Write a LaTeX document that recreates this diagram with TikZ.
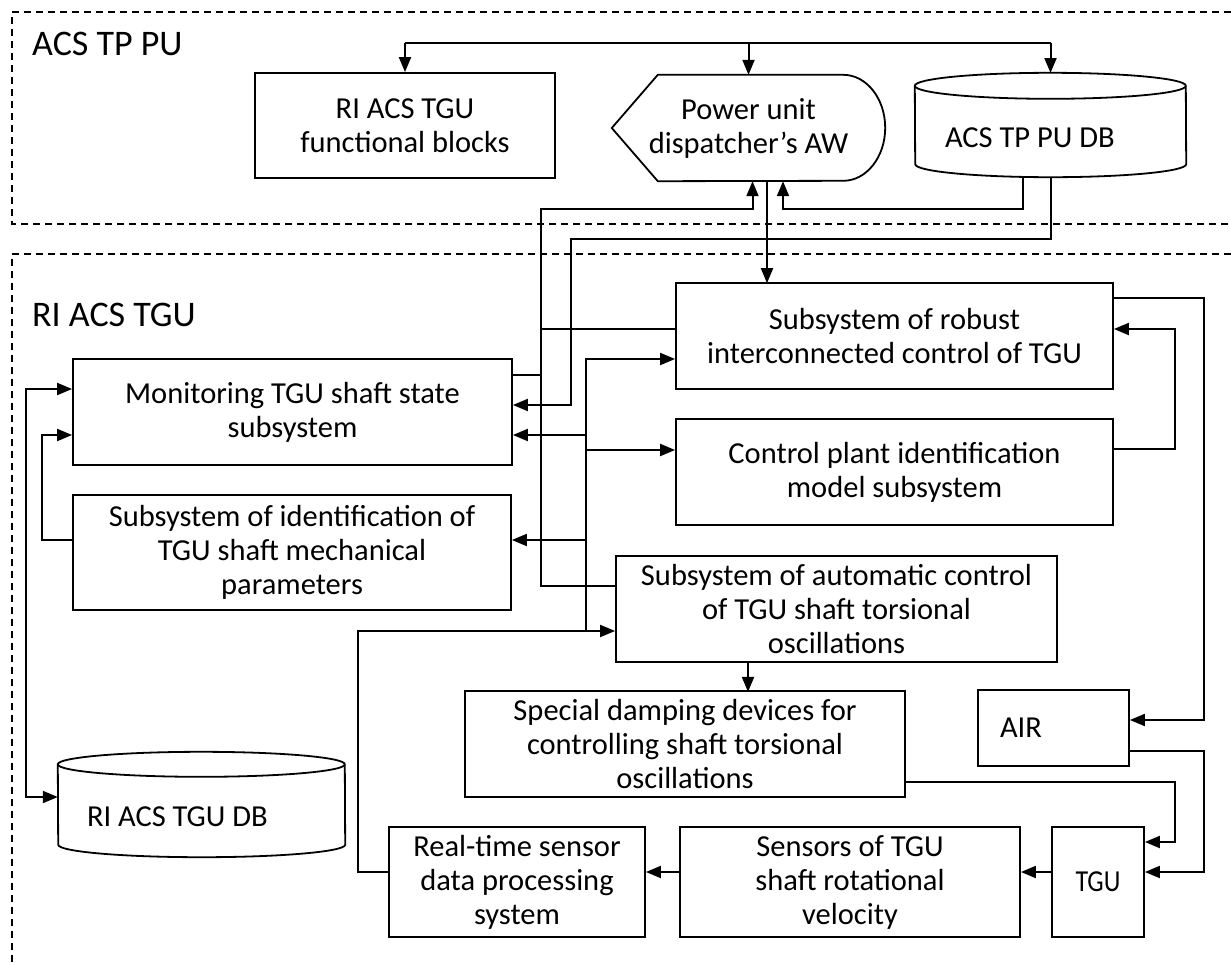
\documentclass[tikz,border=0pt]{standalone}
\usepackage{fontspec}
\setmainfont{Carlito}
\usetikzlibrary{shapes,arrows.meta}
\tikzstyle{block} = [rectangle, draw, line width=1.8pt, align=center, minimum height=106pt, inner sep=3pt, font=\fontsize{30.5}{34}\selectfont]
\tikzstyle{plain} = [rectangle, align=center, inner sep=0pt, font=\fontsize{30.5}{34}\selectfont]
\tikzstyle{title} = [anchor=base west, inner sep=0pt, font=\fontsize{36}{40}\selectfont]
\tikzstyle{line} = [draw, line width=2pt, -{Triangle[length=15pt,width=12pt]}]
\tikzstyle{bline} = [draw, line width=2pt, {Triangle[length=15pt,width=12pt]}-{Triangle[length=15pt,width=12pt]}]
\tikzstyle{wire} = [draw, line width=1.8pt]
\tikzstyle{frame} = [draw, line width=1.3pt, dash pattern=on 7pt off 5pt]

\begin{document}
\begin{tikzpicture}[x=1pt,y=-1pt]
\useasboundingbox (0,0) rectangle (1231,964);
% group frames
\path [frame] (1231,12) -- (12,12) -- (12,224) -- (1231,224);
\path [frame] (1231,254) -- (12,254) -- (12,964);
\node [title] (acstppu) at (32,55) {ACS TP PU};
\node [title] (riacstgu) at (32,326) {RI ACS TGU};

% upper level
\node [block, minimum width=300pt, minimum height=105pt] (func) at (405,125.5) {RI ACS TGU\\functional blocks};
\node [plain, minimum width=273pt, minimum height=106pt] (pu) at (748.5,128) {Power unit\\dispatcher’s AW};
\draw [line width=1.8pt] ([xshift=46pt]pu.north west) -- ([xshift=-42pt]pu.north east)
  arc[start angle=90, end angle=-90, x radius=42pt, y radius=53pt]
  -- ([xshift=46pt]pu.south west) -- (pu.west) -- cycle;
\node [plain, minimum width=271pt, minimum height=78pt, text width=211pt, align=flush left] (acsdb) at (1050.5,138) {ACS TP PU DB};
\draw [line width=1.8pt] ([yshift=13pt]acsdb.north west) arc[start angle=180, end angle=0, x radius=135.5pt, y radius=13pt]
  -- ([yshift=13pt]acsdb.south east) arc[start angle=0, end angle=-180, x radius=135.5pt, y radius=13pt] -- cycle;
\draw [line width=1.8pt] ([yshift=13pt]acsdb.north west) arc[start angle=180, end angle=360, x radius=135.5pt, y radius=13pt];

% lower level
\node [block, minimum width=437pt] (robust) at (894.5,336) {Subsystem of robust\\interconnected control of TGU};
\node [block, minimum width=439pt] (mon) at (292.5,412) {Monitoring TGU shaft state\\subsystem};
\node [block, minimum width=437pt] (ctrl) at (894.5,472) {Control plant identification\\model subsystem};
\node [block, minimum width=438pt, minimum height=115pt] (ident) at (292,552.5) {Subsystem of identification of\\TGU shaft mechanical\\parameters};
\node [block, minimum width=441pt] (autoctl) at (836.5,609) {Subsystem of automatic control\\of TGU shaft torsional\\oscillations};
\node [block, minimum width=440pt] (damp) at (685,744) {Special damping devices for\\controlling shaft torsional\\oscillations};
\node [block, minimum width=151pt, minimum height=76pt, text width=107pt, align=flush left] (air) at (1053.5,728) {AIR};
\node [block, minimum width=92pt, minimum height=110pt] (tgu) at (1098,882) {\scalebox{0.85}[1]{TGU}};
\node [block, minimum width=340pt, minimum height=110pt] (sens) at (850,882) {Sensors of TGU\\shaft rotational\\velocity};
\node [block, minimum width=256pt, minimum height=110pt] (rt) at (517,882) {Real-time sensor\\data processing\\system};
\node [plain, minimum width=287pt, minimum height=80pt, text width=229pt, align=flush left] (ridb) at (201.5,817) {RI ACS TGU DB};
\draw [line width=1.8pt] ([yshift=12.5pt]ridb.north west) arc[start angle=180, end angle=0, x radius=143.5pt, y radius=12.5pt]
  -- ([yshift=12.5pt]ridb.south east) arc[start angle=0, end angle=-180, x radius=143.5pt, y radius=12.5pt] -- cycle;
\draw [line width=1.8pt] ([yshift=12.5pt]ridb.north west) arc[start angle=180, end angle=360, x radius=143.5pt, y radius=12.5pt];

% bus points
\coordinate (topbus) at (405,43);
\coordinate (busA) at (541,209);
\coordinate (busB) at (571,239);
\coordinate (busC) at (586,631);
\coordinate (puin) at ([xshift=34.5pt]pu.south);

% top bus
\path [wire] (topbus) -- (acsdb.north |- topbus);
\path [line] (topbus) -- (func.north);
\path [line] (pu.north |- topbus) -- (pu.north);
\path [line] (acsdb.north |- topbus) -- ++(0,30);

% to the dispatcher
\path [line] ([yshift=37pt]mon.east) -| (busA) -| ([xshift=4pt]pu.south);
\path [wire] ([yshift=7pt]robust.west) -| (busA);
\path [wire] ([yshift=23pt]autoctl.west) -| (busA);
\path [line] ([xshift=-28pt]acsdb.south) |- (puin |- busA) -- (puin);
\path [line] ([xshift=18.5pt]pu.south) -- ++(0,102);
\path [line] (acsdb.south) |- (busB) |- ([yshift=7pt]mon.east);

% sensor data
\path [line] ([yshift=10pt]rt.west) -- ++(-30,0) |- ([yshift=-22pt]autoctl.west);
\path [line] (busC) |- ([yshift=-23pt]robust.west);
\path [line] (busC) |- ([yshift=-23pt]mon.east);
\path [line] (busC) |- ([yshift=22pt]ctrl.west);
\path [line] (busC) |- ([yshift=12.5pt]ident.east);

% left side
\path [bline] ([yshift=23pt]mon.west) -- ++(-46,0) |- ([yshift=20pt]ridb.west);
\path [line] ([yshift=12.5pt]ident.west) -- ++(-30,0) |- ([yshift=-23pt]mon.west);

% right side
\path [line] ([yshift=38pt]robust.east) -- ++(90,0) |- ([yshift=8pt]air.east);
\path [line] ([yshift=23pt]ctrl.east) -- ++(61,0) |- ([yshift=7pt]robust.east);
\path [line] ([yshift=-23pt]air.east) -- ++(74,0) |- ([yshift=10pt]tgu.east);
\path [line] ([yshift=-38pt]damp.east) -- ++(269,0) |- ([yshift=40pt]tgu.east);
\path [line] ([xshift=-88.5pt]autoctl.south) -- ++(0,29);

% bottom row
\path [line] ([yshift=10pt]tgu.west) -- ([yshift=10pt]sens.east);
\path [line] ([yshift=10pt]sens.west) -- ([yshift=10pt]rt.east);
\end{tikzpicture}
\end{document}
